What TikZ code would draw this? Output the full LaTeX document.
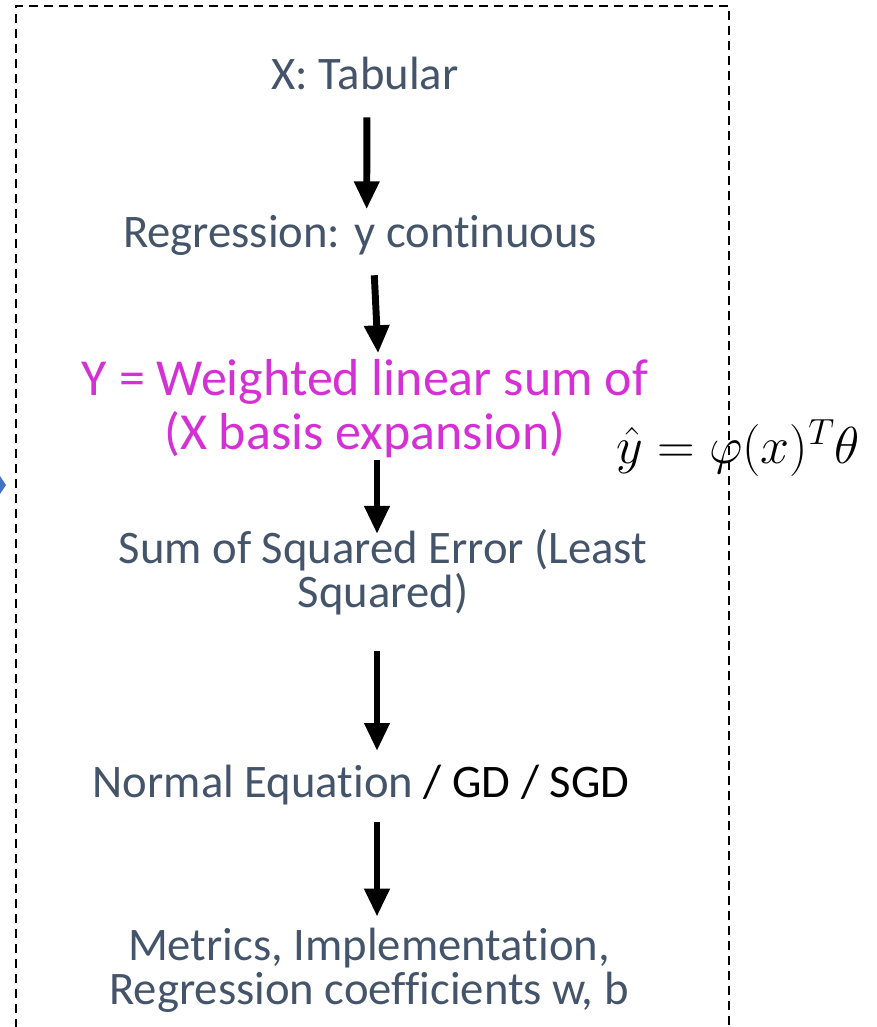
\RequirePackage{fix-cm}
\documentclass[tikz,border=0pt]{standalone}
\usepackage{fontspec}
\setmainfont{Carlito}[Ligatures=CommonOff]
\usetikzlibrary{arrows.meta}
\definecolor{slate}{HTML}{44546A}
\definecolor{fuchsiatext}{RGB}{213,48,213}
\definecolor{officeblue}{HTML}{4472C4}
\tikzset{
  stage/.style={text=slate, font=\fontsize{35}{33}\selectfont, align=center, inner sep=0pt, anchor=base},
  model/.style={text=fuchsiatext, font=\fontsize{39}{40.5}\selectfont, align=center, inner sep=0pt, anchor=base},
  flow/.style={line width=5.2pt, -{Triangle[width=18pt,length=21pt]}},
}
\begin{document}
\begin{tikzpicture}[x=0.75pt,y=-0.75pt]
  \useasboundingbox (0,0) rectangle (877,1027);
  % dashed frame, open at the bottom
  \draw[line width=1.5pt, dash pattern=on 6.75pt off 4.5pt] (729,1040) -- (729,6) -- (16,6) -- (16,1040);
  \fill[officeblue] (0,476) -- (6,485) -- (0,494) -- cycle;

  \node[stage] (tabular) at (365,90) {X: Tabular};
  \node[stage] (regression) at (360,247) {Regression: y continuous};
  \node[model] (model) at (365,449) {Y = Weighted linear sum of\\(X basis expansion)};
  \node[stage] (loss) at (383,607) {Sum of Squared Error (Least\\Squared)};
  \node[stage] (solver) at (361,797) {Normal Equation \textcolor{black}{/ GD / SGD}};
  \node[stage] (metrics) at (369,1004) {Metrics, Implementation,\\Regression coefficients w, b};
  \node[font=\fontsize{39}{46}\selectfont, inner sep=0pt] (formula) at (738,448) {$\hat{y}=\varphi(x)^T\theta$};

  \draw[flow, shorten <=20pt, shorten >=4pt] ([xshift=1.5pt]tabular.south) -- ([xshift=5pt]regression.north);
  \draw[flow, shorten <=15pt, shorten >=4pt] ([xshift=10pt]regression.south) -- ([xshift=10pt]model.north);
  \draw[flow, shorten <=2pt, shorten >=-4pt] ([xshift=9pt]model.south) -- ([xshift=-4.5pt]loss.north);
  \draw[flow, shorten <=27pt, shorten >=10pt] ([xshift=-4.5pt]loss.south) -- ([xshift=12pt]solver.north);
  \draw[flow, shorten <=12.75pt, shorten >=8pt] ([xshift=12pt]solver.south) -- ([xshift=6pt]metrics.north);
\end{tikzpicture}
\end{document}
